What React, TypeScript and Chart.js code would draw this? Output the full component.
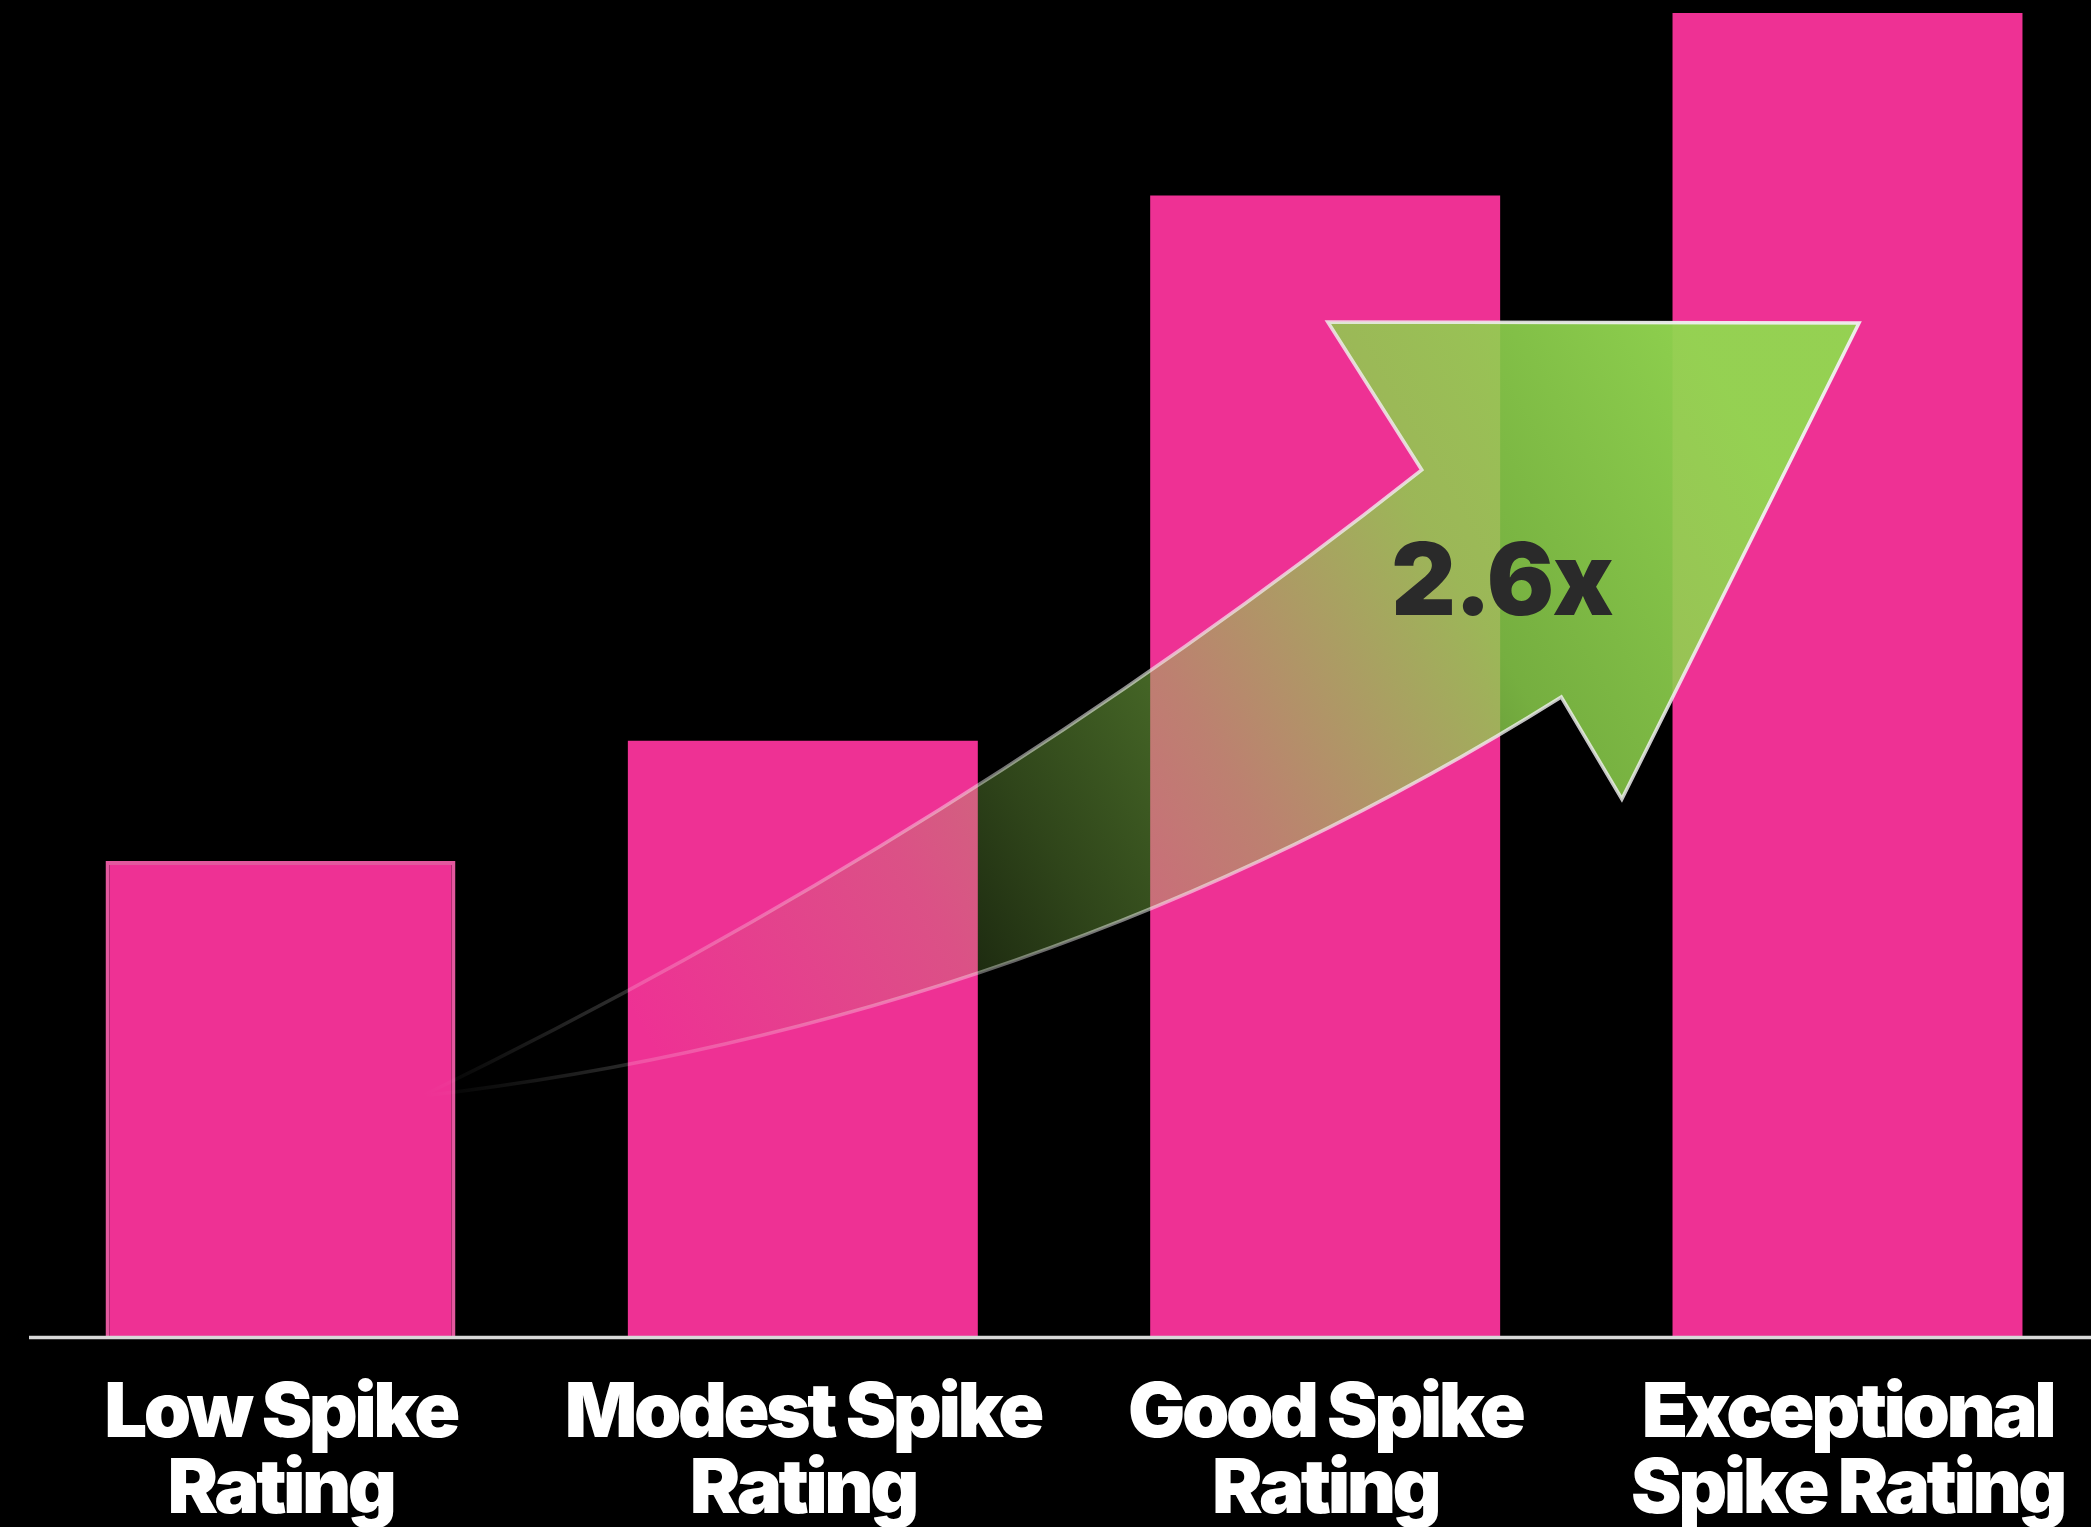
import React, { useEffect, useRef } from 'react';
import { Chart, registerables } from 'chart.js';

Chart.register(...registerables);

// ---- data ----
const categories: string[][] = [
  ['Low Spike', 'Rating'],
  ['Modest Spike', 'Rating'],
  ['Good Spike', 'Rating'],
  ['Exceptional', 'Spike Rating'],
];
const values: number[] = [35.9, 45.0, 86.2, 100];
const multiplierLabel = '2.6x';

// arrow annotation, in (category index, value) units
const ARROW = {
  tail: [0.271, 18.14],
  upperCtrl: [1.298, 37.83],
  upperNotch: [2.185, 65.46],
  headLeft: [2.005, 76.64],
  headRight: [3.022, 76.57],
  tip: [2.568, 40.59],
  lowerNotch: [2.452, 48.3],
  lowerCtrl: [1.452, 23.58],
  gradEnd: [2.718, 74.53],
  label: [2.338, 54.5],
};

const W = 2091;
const H = 1527;

const bgPlugin = {
  id: 'bg',
  beforeDraw(chart: any) {
    const { ctx } = chart;
    ctx.save();
    ctx.fillStyle = '#000';
    ctx.fillRect(0, 0, chart.width, chart.height);
    ctx.restore();
    // tighter tracking for the heavy tick labels
    (ctx as any).letterSpacing = '-3.5px';
  },
  afterDraw(chart: any) {
    (chart.ctx as any).letterSpacing = '0px';
  },
};

const axisPlugin = {
  id: 'axisLine',
  afterDatasetsDraw(chart: any) {
    const { ctx } = chart;
    const y = chart.scales.y.getPixelForValue(0) + 1.6;
    ctx.save();
    ctx.strokeStyle = '#d8d8d8';
    ctx.lineWidth = 3.5;
    ctx.beginPath();
    ctx.moveTo(29, y);
    ctx.lineTo(chart.width, y);
    ctx.stroke();
    ctx.restore();
  },
};

const arrowPlugin = {
  id: 'arrow',
  afterDatasetsDraw(chart: any) {
    const { ctx } = chart;
    const xs = chart.scales.x;
    const ys = chart.scales.y;
    const P = (p: number[]) => [xs.getPixelForValue(p[0]), ys.getPixelForValue(p[1])];
    const t = P(ARROW.tail);
    const uc = P(ARROW.upperCtrl);
    const un = P(ARROW.upperNotch);
    const hl = P(ARROW.headLeft);
    const hr = P(ARROW.headRight);
    const tp = P(ARROW.tip);
    const ln = P(ARROW.lowerNotch);
    const lc = P(ARROW.lowerCtrl);
    const ge = P(ARROW.gradEnd);

    const path = () => {
      ctx.beginPath();
      ctx.moveTo(t[0], t[1]);
      ctx.quadraticCurveTo(uc[0], uc[1], un[0], un[1]);
      ctx.lineTo(hl[0], hl[1]);
      ctx.lineTo(hr[0], hr[1]);
      ctx.lineTo(tp[0], tp[1]);
      ctx.lineTo(ln[0], ln[1]);
      ctx.quadraticCurveTo(lc[0], lc[1], t[0], t[1]);
      ctx.closePath();
    };

    ctx.save();
    const fill = ctx.createLinearGradient(t[0], t[1], ge[0], ge[1]);
    fill.addColorStop(0, 'rgba(143,209,79,0)');
    fill.addColorStop(0.15, 'rgba(143,209,79,0)');
    fill.addColorStop(0.36, 'rgba(143,209,79,0.2)');
    fill.addColorStop(0.45, 'rgba(143,209,79,0.33)');
    fill.addColorStop(0.58, 'rgba(140,207,77,0.5)');
    fill.addColorStop(0.78, 'rgba(140,208,76,0.84)');
    fill.addColorStop(1, 'rgba(146,214,80,0.97)');
    path();
    ctx.fillStyle = fill;
    ctx.fill();

    const stroke = ctx.createLinearGradient(t[0], t[1], ge[0], ge[1]);
    stroke.addColorStop(0, 'rgba(255,255,255,0)');
    stroke.addColorStop(0.12, 'rgba(255,255,255,0.15)');
    stroke.addColorStop(0.35, 'rgba(255,255,255,0.35)');
    stroke.addColorStop(0.7, 'rgba(240,240,240,0.75)');
    stroke.addColorStop(1, 'rgba(240,240,240,0.95)');
    ctx.strokeStyle = stroke;
    ctx.lineWidth = 3.5;
    ctx.lineJoin = 'miter';
    path();
    ctx.stroke();

    const lp = P(ARROW.label);
    (ctx as any).letterSpacing = '-1.5px';
    ctx.fillStyle = '#2a2a2a';
    ctx.font = '900 100px Inter';
    ctx.textAlign = 'center';
    ctx.textBaseline = 'alphabetic';
    ctx.fillText(multiplierLabel, lp[0], lp[1]);
    ctx.restore();
  },
};

export default function App() {
  const ref = useRef<HTMLCanvasElement | null>(null);

  useEffect(() => {
    document.body.style.margin = '0';
    document.body.style.background = '#000';
    document.body.style.overflow = 'hidden';
    const canvas = ref.current;
    if (!canvas) return;
    const chart = new Chart(canvas, {
      type: 'bar',
      data: {
        labels: categories,
        datasets: [
          {
            data: values,
            backgroundColor: '#EE3194',
            borderColor: ['#E3589E', 'rgba(0,0,0,0)', 'rgba(0,0,0,0)', 'rgba(0,0,0,0)'],
            borderWidth: [4, 0, 0, 0],
            borderSkipped: 'bottom',
            categoryPercentage: 1,
            barPercentage: 0.67,
            clip: false,
          } as any,
        ],
      },
      options: {
        animation: false,
        responsive: false,
        devicePixelRatio: 1,
        layout: { padding: { left: 280.5, right: 243.5, top: 13, bottom: -41 } },
        plugins: {
          legend: { display: false },
          tooltip: { enabled: false },
          title: { display: false },
        },
        scales: {
          x: {
            type: 'category',
            offset: false,
            grid: { display: false, drawTicks: false },
            border: { display: false },
            afterFit: (scale: any) => {
              scale.paddingLeft = 0;
              scale.paddingRight = 0;
            },
            ticks: {
              color: '#ffffff',
              padding: 40,
              autoSkip: false,
              maxRotation: 0,
              minRotation: 0,
              font: { family: 'Inter', size: 76, weight: 900 as any, lineHeight: 1 },
            },
          },
          y: {
            display: false,
            min: 0,
            max: 100,
          },
        },
      },
      plugins: [bgPlugin, axisPlugin, arrowPlugin],
    });
    return () => chart.destroy();
  }, []);

  return (
    <div style={{ width: W, height: H, background: '#000' }}>
      <canvas ref={ref} width={W} height={H} style={{ display: 'block', width: W, height: H }} />
    </div>
  );
}
